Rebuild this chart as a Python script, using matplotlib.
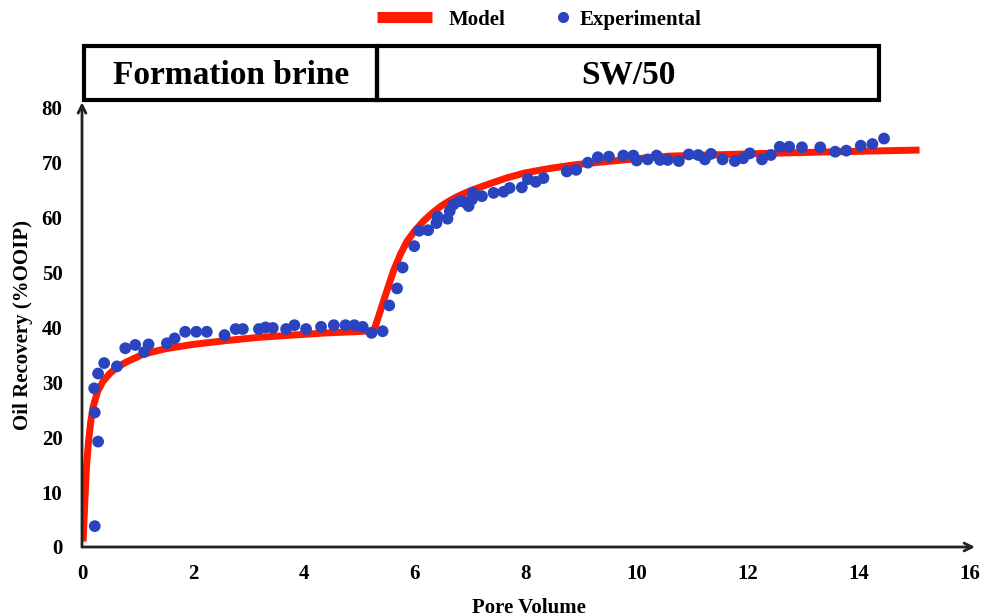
import matplotlib
matplotlib.use('Agg')
import matplotlib.pyplot as plt
from matplotlib.lines import Line2D
from matplotlib.patches import Rectangle

# Experimental points
pv_exp = [0.23, 0.29, 0.23, 0.22, 0.29, 0.40, 0.63, 0.78, 0.96, 1.12, 1.20, 1.53, 1.67,
          1.86, 2.06, 2.25, 2.57, 2.77, 2.90, 3.19, 3.31, 3.44, 3.68, 3.83, 4.04, 4.31,
          4.54, 4.75, 4.91, 5.06, 5.22, 5.42, 5.54, 5.68, 5.78, 5.99, 6.08, 6.24, 6.39,
          6.41, 6.59, 6.63, 6.70, 6.81, 6.90, 6.97, 7.03, 7.05, 7.21, 7.42, 7.60, 7.71,
          7.93, 8.04, 8.18, 8.32, 8.74, 8.91, 9.12, 9.30, 9.50, 9.76, 9.94, 10.00, 10.20,
          10.36, 10.42, 10.56, 10.76, 10.94, 11.11, 11.23, 11.34, 11.55, 11.77, 11.92,
          12.04, 12.26, 12.42, 12.58, 12.75, 12.98, 13.31, 13.58, 13.78, 14.04, 14.25, 14.46]
rec_exp = [3.8, 19.2, 24.5, 28.9, 31.6, 33.5, 32.9, 36.2, 36.8, 35.5, 36.9, 37.1, 38.0,
           39.2, 39.2, 39.2, 38.6, 39.7, 39.7, 39.7, 40.0, 39.9, 39.7, 40.4, 39.7, 40.1,
           40.4, 40.4, 40.4, 40.1, 39.0, 39.3, 44.0, 47.1, 50.9, 54.8, 57.6, 57.7, 59.0,
           60.2, 59.8, 61.2, 62.4, 63.0, 62.8, 62.1, 63.3, 64.5, 63.9, 64.5, 64.7, 65.4,
           65.5, 67.0, 66.5, 67.2, 68.4, 68.7, 70.0, 71.0, 71.1, 71.3, 71.3, 70.4, 70.6,
           71.3, 70.5, 70.5, 70.3, 71.5, 71.4, 70.6, 71.6, 70.6, 70.3, 70.8,
           71.7, 70.6, 71.4, 72.9, 72.9, 72.8, 72.8, 72.0, 72.2, 73.1, 73.4, 74.4]

# Model curve
pv_model = [0.02, 0.05, 0.08, 0.12, 0.16, 0.20, 0.28, 0.38, 0.50, 0.63, 0.80, 1.10, 1.50,
            2.00, 2.60, 3.20, 3.80, 4.42, 4.90, 5.26, 5.35, 5.44, 5.53, 5.62, 5.74, 5.86,
            6.00, 6.16, 6.30, 6.46, 6.60, 6.76, 7.00, 7.36, 7.65, 7.97, 8.40, 8.87, 9.35,
            9.77, 10.20, 10.60, 11.30, 12.35, 13.20, 14.10, 15.10]
rec_model = [1.0, 8.0, 14.5, 19.5, 23.0, 25.5, 28.3, 30.2, 31.6, 32.7, 33.7, 35.1, 36.1,
             36.9, 37.6, 38.2, 38.6, 39.0, 39.2, 39.4, 42.1, 44.9, 47.7, 50.4, 53.3, 55.7,
             57.6, 59.4, 60.7, 62.0, 62.9, 63.8, 64.9, 66.2, 67.2, 68.1, 68.9, 69.6, 70.1,
             70.5, 70.9, 71.2, 71.4, 71.7, 71.9, 72.1, 72.3]

slug_labels = ['Formation brine', 'SW/50']
slug_edges = [0.04, 5.32, 14.37]

RED = '#ff1a00'
BLUE = '#2a44c0'
serif = 'Liberation Serif'

fig = plt.figure(figsize=(9.85, 6.16), dpi=100)
ax = fig.add_axes([82 / 985, 1 - 547 / 616, 893 / 985, 444.7 / 616])

ax.plot(pv_model, rec_model, color=RED, lw=5, solid_capstyle='butt', zorder=2)
ax.scatter(pv_exp, rec_exp, s=72, color=BLUE, edgecolors='none', zorder=3, clip_on=False)

ax.set_xlim(0, 16.1)
ax.set_ylim(0, 81)
ax.set_xticks(range(0, 17, 2))
ax.set_yticks(range(0, 81, 10))
ax.tick_params(length=0)
ax.tick_params(axis='y', pad=14)
ax.tick_params(axis='x', pad=12)
for lab in ax.get_xticklabels() + ax.get_yticklabels():
    lab.set_fontfamily(serif)
    lab.set_fontweight('bold')
    lab.set_fontsize(15)

for s in ['top', 'right', 'left', 'bottom']:
    ax.spines[s].set_visible(False)

# axes drawn as arrows
arrow = dict(arrowstyle='->', lw=2, color='#222222', mutation_scale=14, shrinkA=0, shrinkB=0)
ax.annotate('', xy=(1.0, 0), xytext=(0, 0), xycoords='axes fraction', arrowprops=arrow)
ax.annotate('', xy=(0, 1.0), xytext=(0, 0), xycoords='axes fraction', arrowprops=arrow)

ax.set_xlabel('Pore Volume', fontfamily=serif, fontweight='bold', fontsize=15, labelpad=10)
ax.set_ylabel('Oil Recovery (%OOIP)', fontfamily=serif, fontweight='bold', fontsize=15, labelpad=6)

# slug box above the plot
trans = ax.get_xaxis_transform()
y0 = (547 - 100) / 444.7
y1 = (547 - 46) / 444.7
for i, lab in enumerate(slug_labels):
    ax.add_patch(Rectangle((slug_edges[i], y0), slug_edges[i + 1] - slug_edges[i], y1 - y0,
                           transform=trans, fill=False, lw=3, edgecolor='black', clip_on=False))
    ax.text((slug_edges[i] + slug_edges[i + 1]) / 2, (y0 + y1) / 2 - 0.005, lab, transform=trans,
            ha='center', va='center', fontfamily=serif, fontweight='bold', fontsize=24)

leg_font = {'family': serif, 'weight': 'bold', 'size': 15}
leg1 = fig.legend([Line2D([], [], color=RED, lw=8, solid_capstyle='butt')], ['Model'],
                  loc='center left', bbox_to_anchor=(358 / 985, 0.968), frameon=False,
                  handlelength=2.65, handletextpad=0.8, prop=leg_font)
leg2 = fig.legend([Line2D([], [], color=BLUE, marker='o', ls='none', markersize=7)], ['Experimental'],
                  loc='center left', bbox_to_anchor=(534 / 985, 0.968), frameon=False,
                  handlelength=1.0, handletextpad=0.3, prop=leg_font)

fig.savefig('out.png', dpi=100)
